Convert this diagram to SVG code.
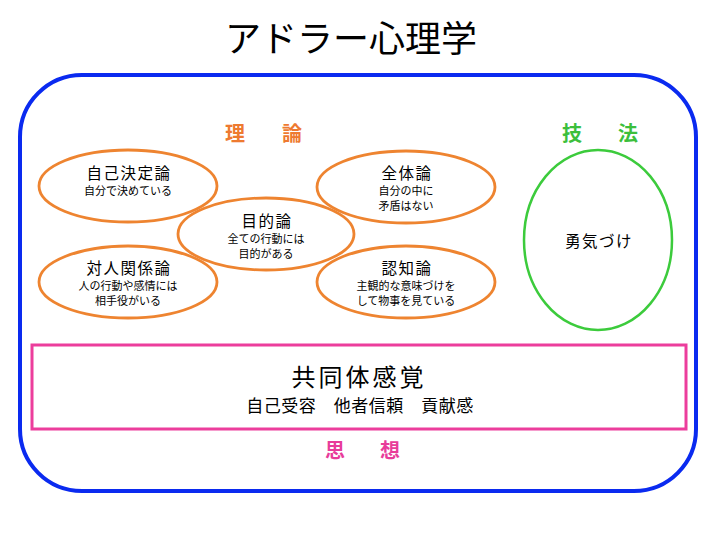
<svg xmlns="http://www.w3.org/2000/svg" width="720" height="540" viewBox="0 0 720 540">
<style>
text{font-family:"Noto Sans CJK JP","Noto Sans CJK SC",sans-serif;text-anchor:middle;fill:#000}
.title{font-size:36px}
.main{font-size:15.5px;letter-spacing:1.5px}
.sub{font-size:11px}
.ell{fill:none;stroke:#EE8430;stroke-width:2.8}
.cat{font-size:20px;font-weight:bold}
</style>
<rect width="720" height="540" fill="#fff"/>
<g id="title"><text class="title" x="351" y="52">アドラー心理学</text></g>
<g id="frame"><rect x="20" y="75" width="676" height="416" rx="62" ry="62" fill="none" stroke="#0A2AF0" stroke-width="4"/></g>
<g id="label-riron"><text class="cat" style="fill:#EE7A30"><tspan x="235" y="141">理</tspan><tspan x="292" y="141">論</tspan></text></g>
<g id="label-gihou"><text class="cat" style="fill:#3CBF3C"><tspan x="572" y="141">技</tspan><tspan x="628" y="141">法</tspan></text></g>
<g id="label-shisou"><text class="cat" style="fill:#E83C9A"><tspan x="335" y="458">思</tspan><tspan x="390" y="458">想</tspan></text></g>
<g id="n-jikokettei"><ellipse class="ell" cx="128" cy="186" rx="89" ry="36"/><text class="main" x="129" y="179">自己決定論</text><text class="sub" x="128" y="195">自分で決めている</text></g>
<g id="n-zentai"><ellipse class="ell" cx="406" cy="187" rx="89" ry="36"/><text class="main" x="407" y="179">全体論</text><text class="sub" x="406" y="195">自分の中に</text><text class="sub" x="406" y="210">矛盾はない</text></g>
<g id="n-taijin"><ellipse class="ell" cx="128" cy="282" rx="89" ry="36"/><text class="main" x="129" y="274">対人関係論</text><text class="sub" x="128" y="290">人の行動や感情には</text><text class="sub" x="128" y="305">相手役がいる</text></g>
<g id="n-ninchi"><ellipse class="ell" cx="406" cy="282" rx="89" ry="36"/><text class="main" x="407" y="274">認知論</text><text class="sub" x="406" y="290">主観的な意味づけを</text><text class="sub" x="406" y="305">して物事を見ている</text></g>
<g id="n-mokuteki"><ellipse class="ell" cx="266" cy="234" rx="88" ry="36" fill="#fff"/><text class="main" x="267" y="227">目的論</text><text class="sub" x="266" y="243">全ての行動には</text><text class="sub" x="266" y="258">目的がある</text></g>
<g id="n-yuuki"><ellipse cx="598" cy="240" rx="74" ry="90" fill="none" stroke="#3CCB3C" stroke-width="2.5"/><text class="main" x="599" y="247">勇気づけ</text></g>
<g id="n-kyoudoutai"><rect x="32" y="345" width="654" height="84" fill="none" stroke="#EC3D9C" stroke-width="3"/><text x="359" y="386" style="font-size:24px;letter-spacing:3px">共同体感覚</text><text x="360" y="412" style="font-size:17px;letter-spacing:0.5px">自己受容　他者信頼　貢献感</text></g>
<g id="connectors"/>
</svg>
